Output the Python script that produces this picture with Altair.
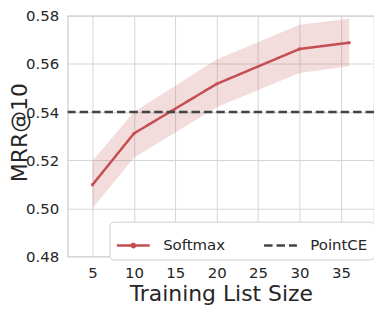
import altair as alt
import pandas as pd

# data
sizes = [5, 10, 20, 30, 36]
mrr = [0.5098, 0.5311, 0.5517, 0.5662, 0.5688]
mrr_lo = [0.5000, 0.5210, 0.5420, 0.5562, 0.5590]
mrr_hi = [0.5198, 0.5400, 0.5618, 0.5763, 0.5788]
baseline_value = 0.54
series_names = ["Softmax", "PointCE"]
x_ticks = [5, 10, 15, 20, 25, 30, 35]
y_ticks = [0.48, 0.50, 0.52, 0.54, 0.56, 0.58]

df = pd.DataFrame({"size": sizes, "mrr": mrr, "lo": mrr_lo, "hi": mrr_hi,
                   "series": ["Softmax"] * len(sizes)})
base_df = pd.DataFrame({"mrr": [baseline_value], "series": ["PointCE"]})

RED = "#c44e52"
DARK = "#444444"
TXT = "#262626"
H = 242

xs = alt.Scale(domain=[2, 39], nice=False, zero=False)
ys = alt.Scale(domain=[0.48, 0.58], nice=False, zero=False)
color_scale = alt.Scale(domain=series_names, range=[RED, DARK])
dash_scale = alt.Scale(domain=series_names, range=[[1, 0], [8.5, 4]])
shape_scale = alt.Scale(domain=series_names,
                        range=["M-1,0H1M-0.1,0A0.1,0.1 0 1,1 0.1,0A0.1,0.1 0 1,1 -0.1,0", "M-1,0H1"])

x_axis = alt.Axis(values=x_ticks, title="Training List Size", format="d")
y_axis = alt.Axis(values=y_ticks, title="MRR@10", format=".2f",
                  titleX=-41, titleY=117, titleBaseline="alphabetic", titleAngle=270)

legend = alt.Legend(title=None, orient="none", legendX=42, legendY=207,
                    direction="horizontal")

band = alt.Chart(df).mark_area(color=RED, opacity=0.2).encode(
    x=alt.X("size:Q", scale=xs, axis=x_axis),
    y=alt.Y("lo:Q", scale=ys, axis=y_axis),
    y2="hi:Q",
)

line = alt.Chart(df).mark_line(strokeWidth=2.5).encode(
    x=alt.X("size:Q", scale=xs),
    y=alt.Y("mrr:Q", scale=ys),
    color=alt.Color("series:N", scale=color_scale, legend=legend),
    strokeDash=alt.StrokeDash("series:N", scale=dash_scale, legend=legend),
)

pts = alt.Chart(df).mark_point(filled=False, size=6, strokeWidth=2.8, opacity=1).encode(
    x=alt.X("size:Q", scale=xs),
    y=alt.Y("mrr:Q", scale=ys),
    color=alt.Color("series:N", scale=color_scale, legend=legend),
    shape=alt.Shape("series:N", scale=shape_scale, legend=legend),
)

rule = alt.Chart(base_df).mark_rule(strokeWidth=2.5).encode(
    y=alt.Y("mrr:Q", scale=ys),
    color=alt.Color("series:N", scale=color_scale, legend=legend),
    strokeDash=alt.StrokeDash("series:N", scale=dash_scale, legend=legend),
)

chart = alt.layer(band, line, pts, rule).properties(
    width=308, height=H,
    autosize=alt.AutoSizeParams(type="none"),
    padding={"left": 60, "top": 7, "right": 0, "bottom": 52},
).configure_view(
    stroke="#cccccc", strokeWidth=1.2
).configure_axis(
    grid=True, gridColor="#d6d6d6", gridWidth=1, domain=False, ticks=False,
    labelFont="DejaVu Sans", labelFontSize=15, labelColor=TXT,
    titleFont="DejaVu Sans", titleFontSize=22, titleFontWeight="normal", titleColor=TXT,
).configure_axisX(
    titlePadding=3, labelPadding=9
).configure_axisY(
    labelPadding=9
).configure_legend(
    labelFont="DejaVu Sans", labelFontSize=15, labelColor=TXT,
    symbolSize=1089, symbolStrokeWidth=2.5, symbolType="stroke",
    fillColor="white", strokeColor="#d0d0d0", cornerRadius=4, padding=6,
    columnPadding=33, labelOffset=12,
)

chart.save("out.html", embed_options={"renderer": "svg", "actions": False})
